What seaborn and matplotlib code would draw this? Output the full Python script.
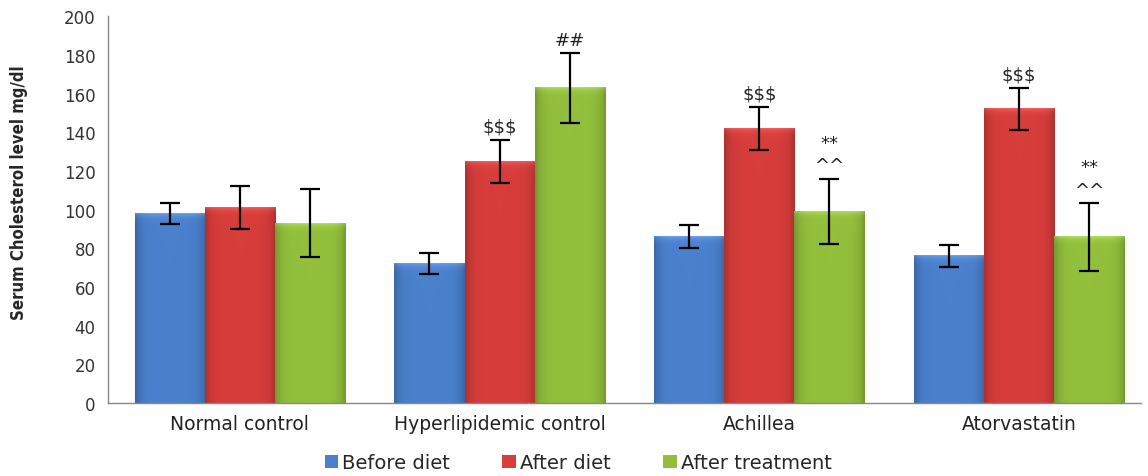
import matplotlib
matplotlib.use("Agg")
import matplotlib.pyplot as plt
import matplotlib.colors as mcolors
import seaborn as sns
import pandas as pd
import numpy as np

# Serum cholesterol (mg/dl), mean and SD per group and time point
groups = ["Normal control", "Hyperlipidemic control", "Achillea", "Atorvastatin"]
phases = ["Before diet", "After diet", "After treatment"]
before_diet = [98, 72, 86, 76]
after_diet = [101, 125, 142, 152]
after_treatment = [93, 163, 99, 86]
sd_before = [5.5, 5.5, 6, 5.5]
sd_after_diet = [11, 11, 11, 11]
sd_after_treat = [17.5, 18, 17, 17.5]
marks_after_diet = ["", "$$$", "$$$", "$$$"]
marks_after_treat = ["", "##", "**\n^^", "**\n^^"]

colors = ["#4a80cc", "#d63d3b", "#92bf3c"]

df = pd.DataFrame({
    "group": groups * 3,
    "phase": np.repeat(phases, len(groups)),
    "value": before_diet + after_diet + after_treatment,
    "sd": sd_before + sd_after_diet + sd_after_treat,
})

sns.set_theme(style="white")
plt.rcParams["font.family"] = ["DejaVu Sans"]

fig = plt.figure(figsize=(11.48, 4.77), dpi=100)
ax = fig.add_axes([0.094, 0.153, 0.90, 0.811])

sns.barplot(data=df, x="group", y="value", hue="phase", order=groups,
            hue_order=phases, palette=colors, width=0.81, gap=0,
            errorbar=None, ax=ax, saturation=1, edgecolor="none")

ax.set_ylim(0, 200)
ax.set_xlim(-0.508, 3.47)


def bevel(patch, base):
    """Shade a bar with darker sides and a soft light top rim."""
    x0, y0 = patch.get_x(), patch.get_y()
    w, h = patch.get_width(), patch.get_height()
    rgb = np.array(mcolors.to_rgb(base))
    nx, ny = 60, max(int(h * 2), 4)
    u = np.linspace(0, 1, nx)
    side = 1 - 0.2 * np.abs(2 * u - 1) ** 6
    img = np.ones((ny, nx, 3)) * rgb
    img *= side[None, :, None]
    v = np.arange(ny) / 2.0  # distance from top in data units
    rim = 0.12 * np.exp(-v / 1.5)
    img = np.clip(img + rim[:, None, None], 0, 1)
    ax.imshow(img, extent=(x0, x0 + w, y0, y0 + h), aspect="auto",
              interpolation="bilinear", zorder=patch.get_zorder() + 0.1)


# Error bars and significance marks on top of each bar
bars = ax.patches[:len(df)]
sds = [sd_before, sd_after_diet, sd_after_treat]
marks = [[""] * 4, marks_after_diet, marks_after_treat]
vals = [before_diet, after_diet, after_treatment]
for k in range(3):
    for i in range(4):
        p = bars[k * 4 + i]
        bevel(p, colors[k])
        xc = p.get_x() + p.get_width() / 2
        ax.errorbar(xc, vals[k][i], yerr=sds[k][i], fmt="none",
                    ecolor="black", elinewidth=1.6, capsize=7, capthick=1.6,
                    zorder=5)
        if marks[k][i]:
            ax.annotate(marks[k][i], (xc, vals[k][i] + sds[k][i]),
                        xytext=(0, 3), textcoords="offset points",
                        ha="center", va="bottom", fontsize=13,
                        color="#222222", linespacing=1.35, zorder=6)

ax.set_ylim(0, 200)
ax.set_xlim(-0.508, 3.47)
ax.set_yticks(range(0, 201, 20))
ax.tick_params(axis="y", labelsize=12, colors="#333333", length=0, pad=9)
ax.tick_params(axis="x", labelsize=13.5, colors="#222222", length=0, pad=8)
ax.set_xlabel("")
ax.set_ylabel("Serum Cholesterol level mg/dl", fontsize=12,
              fontweight="bold", fontstretch="condensed")
ax.yaxis.set_label_coords(-0.077, 0.545)
for s in ["top", "right"]:
    ax.spines[s].set_visible(False)
for s in ["left", "bottom"]:
    ax.spines[s].set_color("#888888")
    ax.spines[s].set_linewidth(1.0)

ax.legend(title=None, loc="center", bbox_to_anchor=(0.455, -0.155),
          ncol=3, frameon=False, fontsize=14, handlelength=0.7,
          handleheight=0.7, handletextpad=0.2, columnspacing=2.7)

fig.savefig("out.png", dpi=100)
